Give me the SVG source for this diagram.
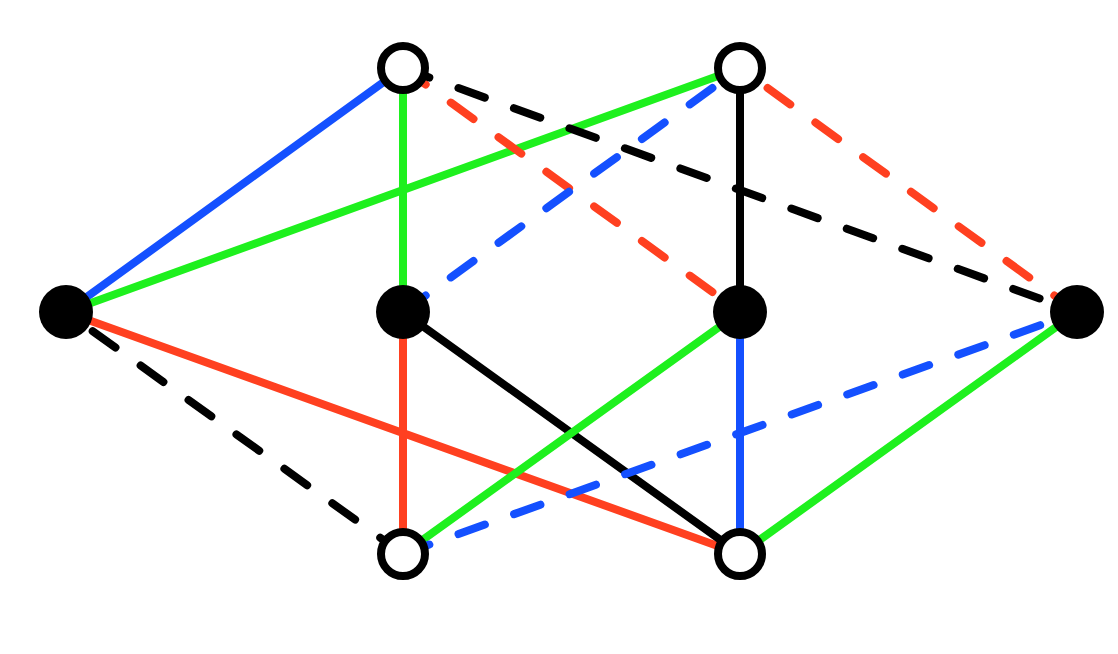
<svg xmlns="http://www.w3.org/2000/svg" width="1118" height="654" viewBox="0 0 1118 654">
<style>
.e{fill:none;stroke-width:8;stroke-linecap:round}
.d{stroke-dasharray:28 31}
.b{stroke:#1450ff}.g{stroke:#1ef01e}.r{stroke:#ff4020}.k{stroke:#000}
.w{fill:#fff;stroke:#000;stroke-width:8}
.f{fill:#000}
</style>
<rect width="1118" height="654" fill="#fff"/>
<g id="edges">
<line class="e b" x1="66" y1="312" x2="403" y2="68"/>
<line class="e g" x1="66" y1="312" x2="740" y2="68"/>
<line class="e r" x1="66" y1="312" x2="740" y2="554"/>
<line class="e k d" x1="403" y1="554" x2="66" y2="312"/>
<line class="e g" x1="403" y1="68" x2="403" y2="312"/>
<line class="e r d" x1="403" y1="68" x2="740" y2="312"/>
<line class="e k d" x1="403" y1="68" x2="1077" y2="312"/>
<line class="e b d" x1="403" y1="312" x2="740" y2="68"/>
<line class="e k" x1="740" y1="68" x2="740" y2="312"/>
<line class="e r d" x1="1077" y1="312" x2="740" y2="68"/>
<line class="e r" x1="403" y1="312" x2="403" y2="554"/>
<line class="e k" x1="403" y1="312" x2="740" y2="554"/>
<line class="e g" x1="740" y1="312" x2="403" y2="554"/>
<line class="e b" x1="740" y1="312" x2="740" y2="554"/>
<line class="e b d" x1="403" y1="554" x2="1077" y2="312"/>
<line class="e g" x1="1077" y1="312" x2="740" y2="554"/>
</g>
<g id="A"><circle class="w" cx="403" cy="68" r="22"/></g>
<g id="B"><circle class="w" cx="740" cy="68" r="22"/></g>
<g id="L"><circle class="f" cx="66" cy="312" r="27"/></g>
<g id="M1"><circle class="f" cx="403" cy="312" r="27"/></g>
<g id="M2"><circle class="f" cx="740" cy="312" r="27"/></g>
<g id="R"><circle class="f" cx="1077" cy="312" r="27"/></g>
<g id="C"><circle class="w" cx="403" cy="554" r="22"/></g>
<g id="D"><circle class="w" cx="740" cy="554" r="22"/></g>
</svg>
